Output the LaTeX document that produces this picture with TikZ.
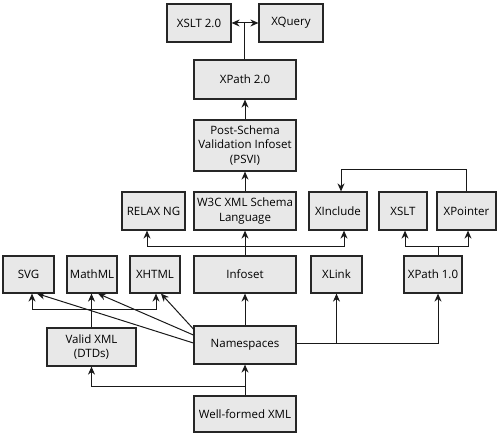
\documentclass[tikz,border=0pt]{standalone}
\usepackage{fontspec}
\setmainfont{Open Sans}
\usetikzlibrary{arrows.meta}
\begin{document}
\begin{tikzpicture}[x=1pt,y=-1pt,
  box/.style={draw=black!85,line width=1.2pt,fill=black!9,align=center,inner sep=0pt,
    font=\fontsize{11.5}{14.5}\selectfont},
  arr/.style={line width=1pt,draw=black!90,-{Stealth[length=8pt,width=7pt]}},
  ln/.style={line width=1pt,draw=black!90},
  dbl/.style={line width=1pt,draw=black!90,{Stealth[length=8pt,width=7pt]}-{Stealth[length=8pt,width=7pt]}}]
\useasboundingbox (0,0) rectangle (500,435);
\node[box,minimum width=64pt,minimum height=38pt] (xslt2) at (199,23) {XSLT 2.0};
\node[box,minimum width=64pt,minimum height=38pt] (xquery) at (291,23) {XQuery};
\node[box,minimum width=102pt,minimum height=39pt] (xpath2) at (245,79.5) {XPath 2.0};
\node[box,minimum width=102pt,minimum height=51pt] (psvi) at (245,145.5) {Post-Schema\\Validation Infoset\\(PSVI)};
\node[box,minimum width=102pt,minimum height=38pt] (w3c) at (245,211) {W3C XML Schema\\Language};
\node[box,minimum width=63pt,minimum height=38pt] (relax) at (153.5,211) {RELAX NG};
\node[box,minimum width=58pt,minimum height=38pt] (xinclude) at (338,211) {XInclude};
\node[box,minimum width=48pt,minimum height=38pt] (xslt) at (403,211) {XSLT};
\node[box,minimum width=59pt,minimum height=38pt] (xpointer) at (466.5,211) {XPointer};
\node[box,minimum width=51pt,minimum height=37pt] (svg) at (28.5,274.5) {SVG};
\node[box,minimum width=50pt,minimum height=37pt] (mathml) at (92,274.5) {MathML};
\node[box,minimum width=50pt,minimum height=37pt] (xhtml) at (155,274.5) {XHTML};
\node[box,minimum width=102pt,minimum height=37pt] (infoset) at (245,274.5) {Infoset};
\node[box,minimum width=51pt,minimum height=37pt] (xlink) at (336.5,274.5) {XLink};
\node[box,minimum width=58pt,minimum height=37pt] (xpath1) at (433,274.5) {XPath 1.0};
\node[box,minimum width=89pt,minimum height=38pt] (valid) at (91.5,347) {Valid XML\\(DTDs)};
\node[box,minimum width=102pt,minimum height=38pt] (ns) at (245,345) {Namespaces};
\node[box,minimum width=102pt,minimum height=36pt] (wf) at (245,414) {Well-formed XML};
% coordinates
\coordinate (j1) at (245,386);
\coordinate (j2) at (91.5,309);
\coordinate (j3) at (245,247);
\coordinate (j4) at (337,343);
\coordinate (j5) at (438,247);
\coordinate (j6) at (466,170);
\coordinate (j7) at (245,23);
% connectors
\draw[arr] (wf.north) -- (ns.south);
\draw[arr] (j1) -| (valid.south);
\draw[arr] (valid.north) -- (valid.north |- mathml.south);
\draw[arr] (j2) -| ([xshift=3.5pt]svg.south);
\draw[arr] (j2) -| ([xshift=1pt]xhtml.south);
\draw[arr] ([yshift=2pt]ns.west) -- ([xshift=8.5pt]svg.south);
\draw[arr] ([yshift=10pt]ns.west) -- ([xshift=6pt]mathml.south);
\draw[arr] ([yshift=16pt]ns.west) -- ([xshift=6pt]xhtml.south);
\draw[arr] (ns.north) -- (infoset.south);
\draw[arr] (infoset.north) -- (w3c.south);
\draw[arr] (j3) -| ([xshift=-6.5pt]relax.south);
\draw[arr] (j3) -| ([xshift=6pt]xinclude.south);
\draw[arr] ([yshift=2pt]ns.east) -| (xlink.south);
\draw[arr] (j4) -| ([xshift=5pt]xpath1.south);
\draw[ln] ([xshift=5pt]xpath1.north) -- (j5);
\draw[arr] (j5) -| ([xshift=2pt]xslt.south);
\draw[arr] (j5) -| ([xshift=1.5pt]xpointer.south);
\draw[arr] ([xshift=-0.5pt]xpointer.north) |- (j6) -| ([xshift=3pt]xinclude.north);
\draw[arr] (w3c.north) -- (psvi.south);
\draw[arr] (psvi.north) -- (xpath2.south);
\draw[ln] ([xshift=-1pt]xpath2.north) -- ([xshift=-1pt]j7);
\draw[dbl] (xslt2.east) -- (xquery.west);
\end{tikzpicture}
\end{document}
